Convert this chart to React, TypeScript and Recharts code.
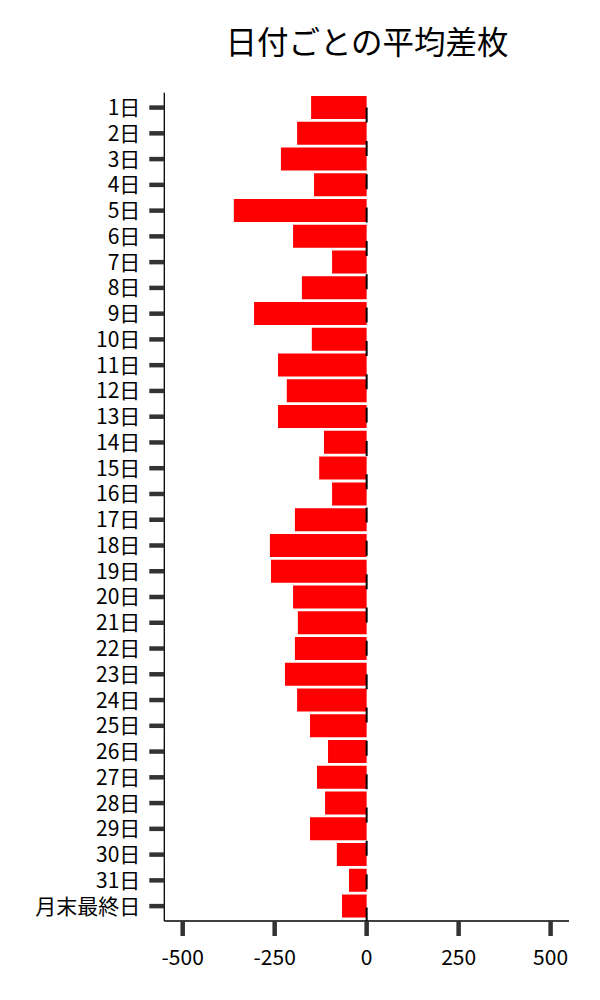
import React from 'react';
import { BarChart, Bar, XAxis, YAxis, ReferenceLine } from 'recharts';

const title = '日付ごとの平均差枚';
const days = [
  '1日', '2日', '3日', '4日', '5日', '6日', '7日', '8日', '9日', '10日',
  '11日', '12日', '13日', '14日', '15日', '16日', '17日', '18日', '19日', '20日',
  '21日', '22日', '23日', '24日', '25日', '26日', '27日', '28日', '29日', '30日',
  '31日', '月末最終日',
];
const avgDiff = [
  -151, -189, -233, -143, -361, -200, -94, -176, -306, -149,
  -241, -217, -241, -116, -129, -94, -195, -263, -260, -200,
  -187, -195, -222, -189, -154, -105, -135, -113, -154, -81,
  -48, -67,
];
const xTicks = [-500, -250, 0, 250, 500];
const xDomain = [-550, 550];

const data = days.map((d, i) => ({ day: d, value: avgDiff[i] }));

const FONT = '"Noto Sans CJK JP", "Noto Sans", sans-serif';

export default function App() {
  return (
    <div style={{ position: 'relative', width: 584, height: 984, fontFamily: FONT }}>
      <BarChart
        width={584}
        height={984}
        data={data}
        layout="vertical"
        margin={{ top: 84.7, right: 23, bottom: 11, left: 6 }}
        barCategoryGap="5%"
      >
        <XAxis
          type="number"
          domain={xDomain}
          ticks={xTicks}
          allowDataOverflow
          height={60}
          tickSize={15}
          tickMargin={14}
          axisLine={{ stroke: '#000', strokeWidth: 1.3 }}
          tickLine={{ stroke: '#333', strokeWidth: 4.5 }}
          tick={{ fontSize: 21, fill: '#000', fontFamily: FONT }}
        />
        <YAxis
          type="category"
          dataKey="day"
          interval={0}
          width={150.3}
          padding={{ top: 2, bottom: 2 }}
          tickSize={15}
          tickMargin={9}
          axisLine={{ stroke: '#000', strokeWidth: 1.3 }}
          tickLine={{ stroke: '#333', strokeWidth: 4.5 }}
          tick={{ fontSize: 21, fill: '#000', fontFamily: FONT }}
        />
        <Bar dataKey="value" fill="#ff0000" isAnimationActive={false} />
        <ReferenceLine
          x={0}
          stroke="#000"
          strokeWidth={2}
          strokeDasharray="15 18.33"
          strokeDashoffset={1.5}
        />
      </BarChart>
      <svg
        width={584}
        height={80}
        style={{ position: 'absolute', left: 0, top: 0, pointerEvents: 'none' }}
      >
        <text x={359} y={46} textAnchor="middle" fontSize={31.5} fill="#000" fontFamily={FONT}>
          {title}
        </text>
      </svg>
    </div>
  );
}
